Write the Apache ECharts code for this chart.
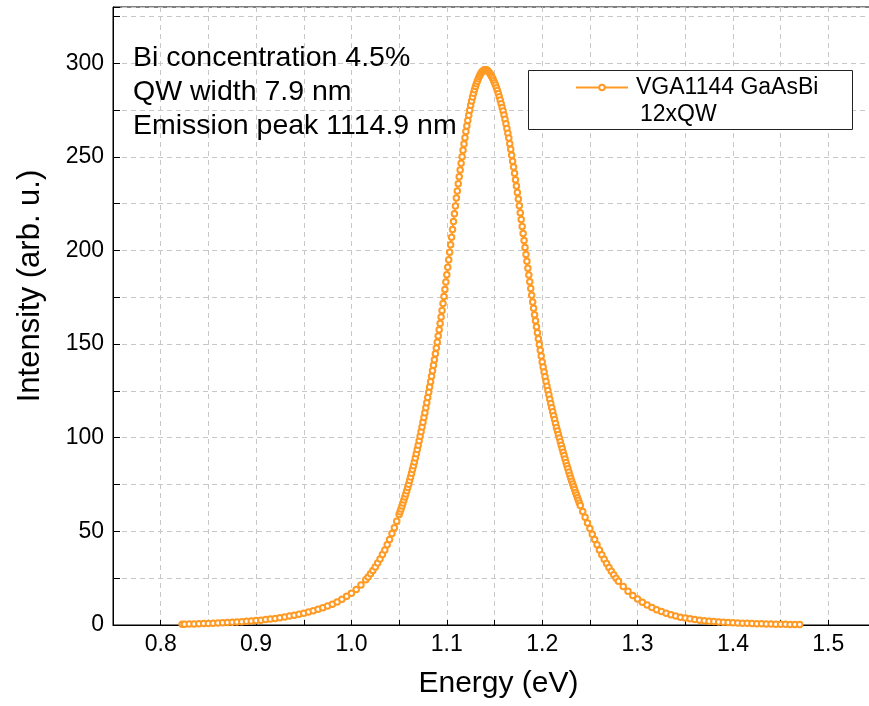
<!DOCTYPE html>
<html>
<head>
<meta charset="utf-8">
<script src="https://cdn.jsdelivr.net/npm/echarts@6/dist/echarts.min.js"></script>
<style>
  html, body { margin: 0; padding: 0; background: #fff; }
  #chart { width: 869px; height: 706px; }
</style>
</head>
<body>
<div id="chart"></div>
<script>
// PL spectrum
var energy = [
  0.8225, 0.825, 0.83, 0.835, 0.84, 0.845, 0.85, 0.855, 0.86, 0.865,
  0.87, 0.875, 0.88, 0.885, 0.89, 0.895, 0.9, 0.905, 0.91, 0.915,
  0.92, 0.925, 0.93, 0.935, 0.94, 0.945, 0.95, 0.955, 0.96, 0.965,
  0.97, 0.975, 0.98, 0.985, 0.99, 0.995, 1.0, 1.005, 1.01, 1.015,
  1.0175, 1.02, 1.0225, 1.025, 1.0275, 1.03, 1.0325, 1.035, 1.0375, 1.04,
  1.0425, 1.045, 1.0475,
  1.050, 1.051, 1.052, 1.053, 1.054, 1.055, 1.056, 1.057, 1.058, 1.059,
  1.060, 1.061, 1.062, 1.063, 1.064, 1.065, 1.066, 1.067, 1.068, 1.069,
  1.070, 1.071, 1.072, 1.073, 1.074, 1.075, 1.076, 1.077, 1.078, 1.079,
  1.080, 1.081, 1.082, 1.083, 1.084, 1.085, 1.086, 1.087, 1.088, 1.089,
  1.090, 1.091, 1.092, 1.093, 1.094, 1.095, 1.096, 1.097, 1.098, 1.099,
  1.100, 1.101, 1.102, 1.103, 1.104, 1.105, 1.106, 1.107, 1.108, 1.109,
  1.110, 1.111, 1.112, 1.113, 1.114, 1.115, 1.116, 1.117, 1.118, 1.119,
  1.120, 1.121, 1.122, 1.123, 1.124, 1.125, 1.126, 1.127, 1.128, 1.129,
  1.130, 1.131, 1.132, 1.133, 1.134, 1.135, 1.136, 1.137, 1.138, 1.139,
  1.140, 1.141, 1.142, 1.143, 1.144, 1.145, 1.146, 1.147, 1.148, 1.149,
  1.150, 1.151, 1.152, 1.153, 1.154, 1.155, 1.156, 1.157, 1.158, 1.159,
  1.160, 1.161, 1.162, 1.163, 1.164, 1.165, 1.166, 1.167, 1.168, 1.169,
  1.170, 1.171, 1.172, 1.173, 1.174, 1.175, 1.176, 1.177, 1.178, 1.179,
  1.180, 1.181, 1.182, 1.183, 1.184, 1.185, 1.186, 1.187, 1.188, 1.189,
  1.190, 1.191, 1.192, 1.193, 1.194, 1.195, 1.196, 1.197, 1.198, 1.199,
  1.200, 1.201, 1.202, 1.203, 1.204, 1.205, 1.206, 1.207, 1.208, 1.209,
  1.210, 1.211, 1.212, 1.213, 1.214, 1.215, 1.216, 1.217, 1.218, 1.219,
  1.220, 1.221, 1.222, 1.223, 1.224, 1.225, 1.226, 1.227, 1.228, 1.229,
  1.230, 1.231, 1.232, 1.233, 1.234, 1.235, 1.236, 1.237, 1.238, 1.239,
  1.240,
  1.2425, 1.245, 1.2475, 1.25, 1.2525, 1.255, 1.2575, 1.26, 1.2625, 1.265,
  1.2675, 1.27, 1.2725, 1.275, 1.2775, 1.28,
  1.285, 1.29, 1.295, 1.3, 1.305, 1.31, 1.315, 1.32, 1.325, 1.33,
  1.335, 1.34, 1.345, 1.35, 1.355, 1.36, 1.365, 1.37, 1.375, 1.38,
  1.385, 1.39, 1.395, 1.4, 1.405, 1.41, 1.415, 1.42, 1.425, 1.43,
  1.435, 1.44, 1.445, 1.45, 1.455, 1.46, 1.465, 1.47
];
var intensity = [
  0.35, 0.4, 0.5, 0.55, 0.65, 0.75, 0.85, 0.95, 1.05, 1.15,
  1.3, 1.45, 1.6, 1.75, 1.95, 2.15, 2.35, 2.6, 2.9, 3.2,
  3.5, 3.9, 4.3, 4.75, 5.2, 5.7, 6.25, 6.9, 7.6, 8.4,
  9.2, 10.1, 11.1, 12.3, 13.7, 15.3, 17.0, 19.0, 21.4, 24.1,
  25.6, 27.3, 29.1, 31.0, 33.1, 35.3, 37.6, 40.1, 42.8, 45.6,
  48.8, 51.9, 55.4,
  59.0, 60.5, 62.0, 63.5, 65.1, 66.7, 68.3, 70.0, 71.7, 73.4,
  75.2, 77.1, 79.0, 81.0, 83.0, 85.0, 87.1, 89.2, 91.4, 93.7,
  96.0, 98.4, 100.8, 103.2, 105.7, 108.2, 110.8, 113.4, 116.0, 118.7,
  121.5, 124.3, 127.1, 129.9, 132.8, 135.7, 138.7, 141.7, 144.8, 147.9,
  151.0, 154.3, 157.6, 161.0, 164.5, 168.0, 171.7, 175.4, 179.2, 183.1,
  187.0, 191.0, 195.0, 199.0, 203.0, 207.0, 211.2, 215.4, 219.6, 223.8,
  228.0, 231.8, 235.6, 239.3, 242.9, 246.5, 250.0, 253.5, 256.9, 260.2,
  263.5, 266.5, 269.4, 272.2, 274.9, 277.5, 279.8, 281.9, 283.9, 285.8,
  287.5, 289.0, 290.4, 291.7, 292.9, 294.0, 294.8, 295.5, 296.0, 296.3,
  296.5, 296.5, 296.3, 295.9, 295.3, 294.6, 293.8, 292.9, 291.9, 290.8,
  289.6, 288.3, 286.9, 285.4, 283.8, 282.1, 280.3, 278.4, 276.4, 274.4,
  272.3, 270.0, 267.6, 265.1, 262.6, 260.0, 257.0, 254.0, 250.9, 247.7,
  244.5, 241.2, 237.8, 234.4, 231.0, 227.5, 223.9, 220.2, 216.5, 212.8,
  209.0, 205.3, 201.6, 197.9, 194.2, 190.5, 186.9, 183.3, 179.7, 176.1,
  172.5, 169.1, 165.7, 162.4, 159.2, 156.0, 152.9, 149.8, 146.7, 143.6,
  140.5, 137.8, 135.1, 132.5, 130.0, 127.5, 125.2, 122.9, 120.6, 118.3,
  116.0, 113.9, 111.8, 109.7, 107.6, 105.5, 103.6, 101.7, 99.8, 97.9,
  96.0, 94.1, 92.3, 90.5, 88.6, 86.8, 85.1, 83.4, 81.7, 80.0,
  78.3, 76.8, 75.3, 73.8, 72.3, 70.8, 69.4, 68.0, 66.6, 65.2,
  63.8,
  60.6, 57.5, 54.4, 51.5, 48.5, 45.6, 42.8, 40.1, 37.5, 35.1,
  32.8, 30.7, 28.7, 26.8, 25.0, 23.4,
  20.5, 18.0, 15.8, 13.9, 12.2, 10.7, 9.4, 8.2, 7.2, 6.3,
  5.5, 4.8, 4.2, 3.7, 3.3, 2.9, 2.6, 2.3, 2.05, 1.85,
  1.65, 1.5, 1.35, 1.2, 1.1, 1.0, 0.9, 0.8, 0.72, 0.65,
  0.58, 0.52, 0.46, 0.42, 0.38, 0.33, 0.28, 0.25
];

var seriesName = 'VGA1144 GaAsBi';
var seriesName2 = '12xQW';
var notes = ['Bi concentration 4.5%', 'QW width 7.9 nm', 'Emission peak 1114.9 nm'];
var xTitle = 'Energy (eV)';
var yTitle = 'Intensity (arb. u.)';
var orange = '#ff9a24';
var font = '"Liberation Sans", Arial, sans-serif';

var points = [];
for (var i = 0; i < energy.length; i++) {
    points.push([energy[i], intensity[i]]);
}

var chart = echarts.init(document.getElementById('chart'), null, {renderer: 'canvas'});

var option = {
    backgroundColor: '#fff',
    animation: false,
    textStyle: {fontFamily: font},
    title: {
        text: notes.join('\n'),
        left: 133,
        top: 41,
        padding: 0,
        textStyle: {fontFamily: font, fontSize: 28.5, fontWeight: 'normal', color: '#000', lineHeight: 34}
    },
    grid: {
        left: 113, right: -7, top: 7, bottom: 81,
        outerBoundsMode: 'none',
        containLabel: false,
        show: true, borderColor: '#000', borderWidth: 1
    },
    legend: {
        left: 575, top: 76,
        itemWidth: 52, itemHeight: 7, itemGap: 0,
        padding: 0,
        z: 10,
        textStyle: {fontFamily: font, fontSize: 23, color: '#000', padding: [0, 0, 0, 3]},
        data: [seriesName]
    },
    graphic: [
        {type: 'rect', z: 8, shape: {x: 528.5, y: 70.5, width: 324, height: 59},
         style: {fill: '#fff', stroke: '#222', lineWidth: 1}},
        {type: 'text', z: 10, x: 640, y: 115,
         style: {text: seriesName2, fill: '#000', font: '23px ' + font, verticalAlign: 'middle'}},
        {type: 'text', z: 10, x: 30, y: 286, rotation: Math.PI / 2,
         style: {text: yTitle, fill: '#000', font: '31px ' + font, align: 'center', verticalAlign: 'middle'}}
    ],
    xAxis: {
        type: 'value',
        min: 0.75, max: 1.55, interval: 0.05,
        name: xTitle,
        nameLocation: 'middle',
        nameGap: 44,
        nameTextStyle: {fontFamily: font, fontSize: 30, color: '#000', padding: [0, 0, 0, 8]},
        axisLine: {lineStyle: {color: '#000', width: 1}},
        axisTick: {inside: true, length: 5, lineStyle: {color: '#000'}},
        axisLabel: {
            fontFamily: font, fontSize: 23, color: '#000', margin: 8,
            showMinLabel: false,
            formatter: function (v) {
                var k = Math.round(v * 100);
                return k % 10 === 0 && k <= 150 ? (k / 100).toFixed(1) : '';
            }
        },
        splitLine: {show: true, lineStyle: {color: '#c8c8c8', type: [5, 4], width: 1}}
    },
    yAxis: {
        type: 'value',
        min: 0, max: 330, interval: 25,
        axisLine: {show: true, lineStyle: {color: '#000', width: 1}},
        axisTick: {show: true, inside: true, length: 7, lineStyle: {color: '#000'}},
        axisLabel: {
            fontFamily: font, fontSize: 23, color: '#000', margin: 9,
            formatter: function (v) {
                return v % 50 === 0 ? String(v) : '';
            }
        },
        splitLine: {show: true, lineStyle: {color: '#c8c8c8', type: [5, 4], width: 1}}
    },
    series: [{
        name: seriesName,
        type: 'line',
        data: points,
        symbol: 'emptyCircle',
        symbolSize: 5.5,
        showSymbol: true,
        itemStyle: {color: orange, borderWidth: 1.2},
        lineStyle: {color: orange, width: 1.8},
        z: 3
    }]
};

chart.setOption(option);
</script>
</body>
</html>
